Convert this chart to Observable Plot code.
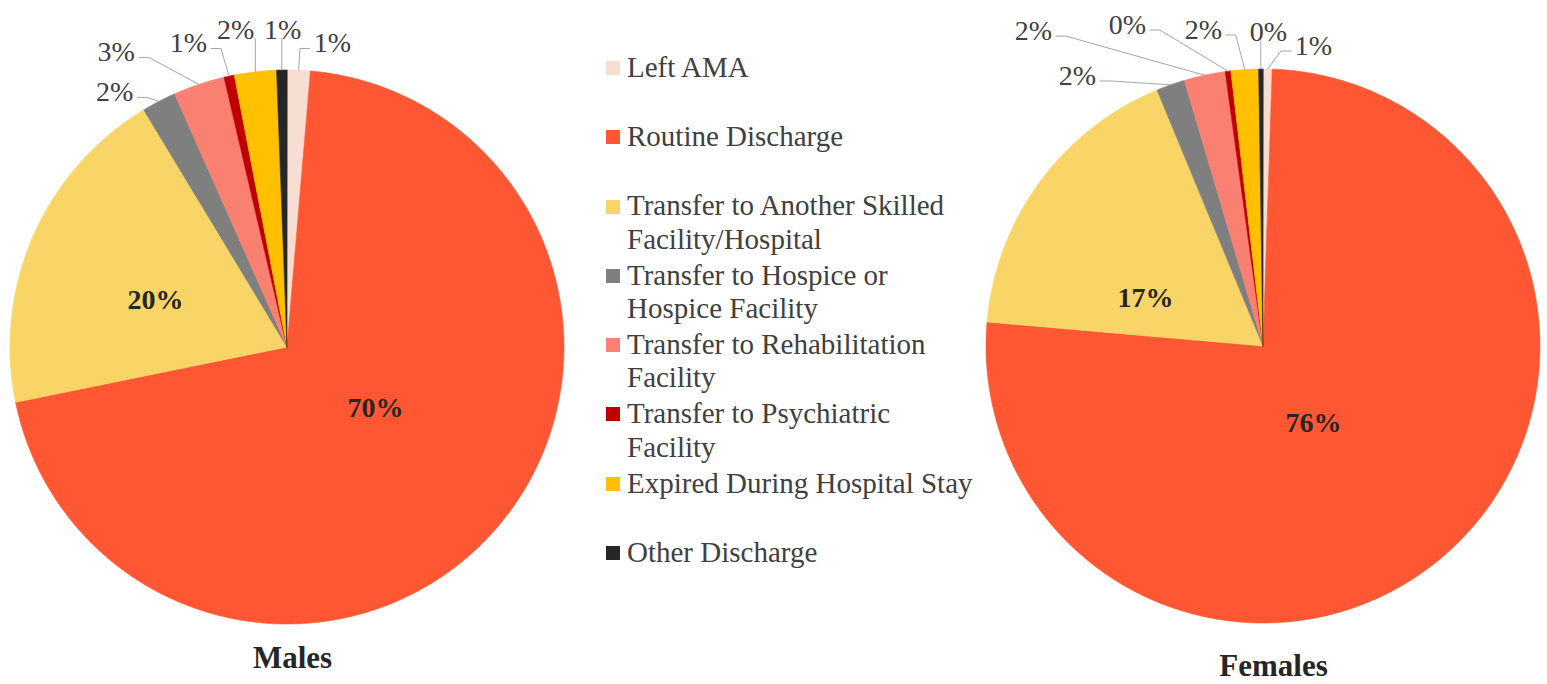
<!DOCTYPE html>
<html><head><meta charset="utf-8">
<script src="https://cdn.jsdelivr.net/npm/d3@7"></script>
<script src="https://cdn.jsdelivr.net/npm/@observablehq/plot@0.6"></script>
<style>
html,body{margin:0;padding:0;background:#fff;}
#chart{position:relative;width:1547px;height:684px;overflow:hidden;font-family:"Liberation Serif","Times New Roman",serif;background:#fff;}
.pie{position:absolute;top:0;}
#legend{position:absolute;left:606px;top:0;width:400px;height:684px;}
.item{position:absolute;left:0;display:flex;align-items:flex-start;}
.sw{width:14px;height:14px;margin-top:10.3px;margin-right:7px;flex:none;}
.lab{width:352px;font-size:29px;line-height:33.5px;color:#404040;}
</style></head>
<body><div id="chart"></div>
<script>
// ---- data ----
const categories = ["Left AMA","Routine Discharge","Transfer to Another Skilled Facility/Hospital","Transfer to Hospice or Hospice Facility","Transfer to Rehabilitation Facility","Transfer to Psychiatric Facility","Expired During Hospital Stay","Other Discharge"];
const colors = ["#F8DED2","#FF5733","#F9D567","#7F7F7F","#FA8072","#C00000","#FFC000","#262626"];
const malesValues   = [1.35, 70.45, 19.55, 2.0, 3.0, 0.6, 2.45, 0.6];
const femalesValues = [0.53, 75.85, 17.37, 1.67, 2.4, 0.33, 1.6, 0.25];
const panelTitles = ["Males", "Females"];
// label placement (layout): [angle in degrees clockwise from 12 o'clock, distance as fraction of radius]
const malesLabelPlacement   = [[8.5,1.108],[124.8,0.389],[289.5,0.504],[-34.1,1.11],[-30.1,1.229],[-18,1.152],[-9.2,1.161],[-0.8,1.146]];
const femalesLabelPlacement = [[9.55,1.098],[146.7,0.332],[292.2,0.458],[-34.5,1.183],[-36.1,1.407],[-22.9,1.258],[-10.7,1.161],[1.0,1.134]];

// ---- layout ----
const H = 684, R = 277;
const chart = document.getElementById("chart");

function pie(values, placement, title, {left, width, cx, cy, titleDx, titleDy}) {
  const total = d3.sum(values);
  let acc = 0;
  const slices = values.map((v, i) => {
    const a0 = acc / total * 2 * Math.PI; acc += v;
    const a1 = acc / total * 2 * Math.PI;
    return {cat: categories[i], value: v, a0, a1};
  });
  const pts = [];
  for (const s of slices) {
    pts.push({cat: s.cat, x: 0, y: 0});
    const n = Math.max(2, Math.ceil((s.a1 - s.a0) / (Math.PI / 720)));
    for (let k = 0; k <= n; k++) {
      const a = s.a0 + (s.a1 - s.a0) * k / n;
      pts.push({cat: s.cat, x: Math.sin(a), y: Math.cos(a)});
    }
  }
  const labels = slices.map((s, i) => {
    const [deg, f] = placement[i];
    const a = deg * Math.PI / 180;
    return {...s, x: f * Math.sin(a), y: f * Math.cos(a), inside: f < 1,
            text: Math.round(s.value / total * 100) + "%"};
  });
  const px = 1 / R, halfW = 18.5 * px, gap = 4 * px, elbow = 10 * px, drop = 5 * px, halfH = 9 * px;
  const leaders = [];
  for (const l of labels.filter(d => !d.inside)) {
    const am = (l.a0 + l.a1) / 2;
    const P = {x: Math.sin(am), y: Math.cos(am)};
    const dx = P.x - l.x;
    if (Math.abs(dx) < halfW + 6 * px) {
      leaders.push({k: l.cat, x: P.x, y: l.y - halfH}, {k: l.cat, x: P.x, y: P.y});
    } else {
      const s = Math.sign(dx);
      const x0 = l.x + s * (halfW + gap), y0 = l.y - drop;
      leaders.push({k: l.cat, x: x0, y: y0}, {k: l.cat, x: x0 + s * elbow, y: y0}, {k: l.cat, x: P.x, y: P.y});
    }
  }
  const svg = Plot.plot({
    width, height: H, margin: 0,
    x: {domain: [-cx / R, (width - cx) / R], axis: null},
    y: {domain: [-(H - cy) / R, cy / R], axis: null},
    color: {domain: categories, range: colors},
    style: {fontFamily: '"Liberation Serif","Times New Roman",serif', background: "transparent", overflow: "visible"},
    marks: [
      Plot.line(pts, {x: "x", y: "y", z: "cat", fill: "cat", stroke: "cat", strokeWidth: 0.6, curve: "linear-closed"}),
      Plot.line(leaders, {x: "x", y: "y", z: "k", stroke: "#a6a6a6", strokeWidth: 1}),
      Plot.text(labels.filter(d => !d.inside), {x: "x", y: "y", text: "text", fontSize: 28, fill: "#404040"}),
      Plot.text(labels.filter(d => d.inside), {x: "x", y: "y", text: "text", fontSize: 28, fontWeight: "bold", fill: "#262626"}),
      Plot.text([title], {frameAnchor: "bottom", text: d => d, fontSize: 31, fontWeight: "bold", fill: "#262626", dx: titleDx, dy: titleDy})
    ]
  });
  svg.classList.add("pie");
  svg.style.left = left + "px";
  chart.appendChild(svg);
}

pie(malesValues, malesLabelPlacement, panelTitles[0], {left: 0, width: 580, cx: 286.5, cy: 346.5, titleDx: 2, titleDy: -17});
pie(femalesValues, femalesLabelPlacement, panelTitles[1], {left: 975, width: 572, cx: 287.5, cy: 345.5, titleDx: 12, titleDy: -9});

// legend
const legend = d3.select(chart).append("div").attr("id", "legend");
const items = legend.selectAll("div.item").data(categories).join("div")
  .attr("class", "item")
  .style("top", (d, i) => (50.7 + i * 69.3) + "px");
items.append("div").attr("class", "sw").style("background", (d, i) => colors[i]);
items.append("div").attr("class", "lab").text(d => d);
</script>
</body></html>
